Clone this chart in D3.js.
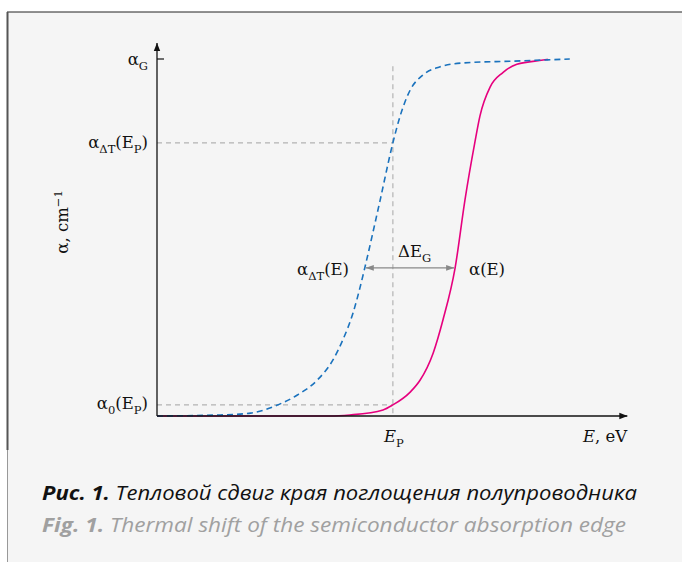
<!DOCTYPE html>
<html>
<head>
<meta charset="utf-8">
<script src="https://cdnjs.cloudflare.com/ajax/libs/d3/7.8.5/d3.min.js"></script>
<style>
  html, body { margin: 0; padding: 0; background: #fff; }
  svg { display: block; }
</style>
</head>
<body>
<svg id="chart" width="682" height="562"></svg>
<script>
// heated sample, alpha_dT(E) - dashed blue
var shiftedE     = [0, 1.35, 2.00, 2.56, 2.99, 3.42, 3.76, 3.97, 4.19, 4.34, 4.44, 4.76, 5.04, 5.19, 5.41, 5.68, 6.05, 6.54, 7.61, 8.82];
var shiftedAlpha = [0, 0.003, 0.008, 0.030, 0.058, 0.10, 0.157, 0.213, 0.289, 0.361, 0.415, 0.60, 0.765, 0.838, 0.913, 0.955, 0.978, 0.989, 0.994, 1.0];
// cold sample, alpha(E) - solid magenta
var baseE     = [0, 3.70, 4.12, 4.83, 5.04, 5.41, 5.62, 5.90, 6.11, 6.37, 6.58, 6.79, 6.90, 7.12, 7.39, 7.69, 8.25, 8.35];
var baseAlpha = [0, 0, 0.003, 0.017, 0.031, 0.067, 0.10, 0.176, 0.269, 0.415, 0.605, 0.765, 0.84, 0.922, 0.962, 0.985, 0.997, 0.999];

var ePoint = 5.04;          // E_P
var alphaShiftAtP = 0.765;  // alpha_dT(E_P)
var alphaBaseAtP = 0.031;   // alpha_0(E_P)
var alphaG = 1.0;
var gapAlpha = 0.415, gapFrom = 4.44, gapTo = 6.37;   // delta E_G arrow

var svg = d3.select('#chart');
var serif = '"DejaVu Serif", serif';
var padding = {l: 157, r: 625, t: 59, b: 416};

var xScale = d3.scaleLinear().domain([0, 10]).range([padding.l, padding.r]);
var yScale = d3.scaleLinear().domain([0, 1]).range([padding.b, padding.t]);

// frame / background
svg.append('rect').attr('x', 7).attr('y', 12).attr('width', 675).attr('height', 550).attr('fill', '#f5f5f5');
svg.append('line').attr('x1', 7).attr('x2', 682).attr('y1', 12).attr('y2', 12).attr('stroke', '#222').attr('stroke-width', 1);
svg.append('line').attr('x1', 7.5).attr('x2', 7.5).attr('y1', 12).attr('y2', 450).attr('stroke', '#555').attr('stroke-width', 2);
svg.append('line').attr('x1', 7.5).attr('x2', 7.5).attr('y1', 450).attr('y2', 562).attr('stroke', '#999').attr('stroke-width', 1);

var defs = svg.append('defs');
defs.append('marker').attr('id', 'axArrow').attr('viewBox', '0 0 10 10').attr('refX', 10).attr('refY', 5)
    .attr('markerWidth', 8).attr('markerHeight', 8).attr('markerUnits', 'userSpaceOnUse').attr('orient', 'auto')
    .append('path').attr('d', 'M0,1 L10,5 L0,9 Z').attr('fill', '#111');
defs.append('marker').attr('id', 'grayArrow').attr('viewBox', '0 0 10 10').attr('refX', 10).attr('refY', 5)
    .attr('markerWidth', 8).attr('markerHeight', 8).attr('markerUnits', 'userSpaceOnUse').attr('orient', 'auto-start-reverse')
    .append('path').attr('d', 'M0,1.5 L10,5 L0,8.5 Z').attr('fill', '#888');

var chartG = svg.append('g');

// guide lines
var guide = function(x1, y1, x2, y2) {
    chartG.append('line').attr('x1', x1).attr('y1', y1).attr('x2', x2).attr('y2', y2)
        .attr('stroke', '#b3b3b3').attr('stroke-width', 1.2).attr('stroke-dasharray', '5,4');
};
guide(xScale(0), yScale(alphaShiftAtP), xScale(ePoint), yScale(alphaShiftAtP));
guide(xScale(0), yScale(alphaBaseAtP), xScale(ePoint), yScale(alphaBaseAtP));
guide(xScale(ePoint), yScale(0.98), xScale(ePoint), yScale(0));

// curves
var line = d3.line().curve(d3.curveMonotoneX)
    .x(function(d) { return xScale(d[0]); })
    .y(function(d) { return yScale(d[1]); });

chartG.append('path')
    .datum(baseE.map(function(e, i) { return [e, baseAlpha[i]]; }))
    .attr('d', line).attr('fill', 'none').attr('stroke', '#e6007e').attr('stroke-width', 1.6);
chartG.append('path')
    .datum(shiftedE.map(function(e, i) { return [e, shiftedAlpha[i]]; }))
    .attr('d', line).attr('fill', 'none').attr('stroke', '#1a72bd').attr('stroke-width', 1.6)
    .attr('stroke-dasharray', '6,4');

// axes
chartG.append('line').attr('x1', xScale(0)).attr('y1', yScale(0)).attr('x2', xScale(10.05)).attr('y2', yScale(0))
    .attr('stroke', '#111').attr('stroke-width', 1.3).attr('marker-end', 'url(#axArrow)');
chartG.append('line').attr('x1', xScale(0)).attr('y1', yScale(0)).attr('x2', xScale(0)).attr('y2', yScale(1.045))
    .attr('stroke', '#111').attr('stroke-width', 1.3).attr('marker-end', 'url(#axArrow)');
chartG.append('line').attr('x1', xScale(0)).attr('x2', xScale(0) + 7).attr('y1', yScale(alphaG)).attr('y2', yScale(alphaG))
    .attr('stroke', '#111').attr('stroke-width', 1.2);

// delta E_G arrow
chartG.append('line').attr('x1', xScale(gapFrom) + 1).attr('x2', xScale(gapTo) - 1)
    .attr('y1', yScale(gapAlpha)).attr('y2', yScale(gapAlpha))
    .attr('stroke', '#888').attr('stroke-width', 1.2)
    .attr('marker-start', 'url(#grayArrow)').attr('marker-end', 'url(#grayArrow)');

// text with subscripts: parts = [[text, 'sub'|'sup'|'', italic]]
function label(x, y, parts, anchor) {
    var t = chartG.append('text').attr('x', x).attr('y', y)
        .attr('font-family', serif).attr('font-size', 16.5).attr('fill', '#111')
        .attr('text-anchor', anchor || 'start');
    var shift = 0;
    parts.forEach(function(p) {
        var target = p[1] === 'sub' ? 4.5 : (p[1] === 'sup' ? -6 : 0);
        var s = t.append('tspan').text(p[0]).attr('dy', target - shift);
        if (p[1]) s.attr('font-size', 11.5);
        if (p[2]) s.attr('font-style', 'italic');
        shift = target;
    });
    return t;
}

label(148, 65, [['α', ''], ['G', 'sub']], 'end');
label(148, 148, [['α', ''], ['ΔT', 'sub'], ['(E', ''], ['P', 'sub'], [')', '']], 'end');
label(148, 409, [['α', ''], ['0', 'sub'], ['(E', ''], ['P', 'sub'], [')', '']], 'end');
label(297, 275, [['α', ''], ['ΔT', 'sub'], ['(E)', '']], 'start');
label(469, 275, [['α(E)', '']], 'start');
label(398, 257, [['ΔE', ''], ['G', 'sub']], 'start');
label(384, 442, [['E', '', true], ['P', 'sub']], 'start');
label(583, 442, [['E', '', true], [', eV', '']], 'start');

var yLab = label(0, 0, [['α, cm', ''], ['−1', 'sup']], 'middle');
yLab.attr('transform', 'translate(68,222) rotate(-90)');

// caption
var sans = '"Open Sans", "Noto Sans", sans-serif';
var cap1 = svg.append('text').attr('x', 42).attr('y', 500).attr('font-family', sans).attr('font-size', 20)
    .attr('font-style', 'italic').attr('fill', '#111')
    .attr('textLength', 595).attr('lengthAdjust', 'spacingAndGlyphs');
cap1.append('tspan').attr('font-weight', 'bold').text('Рис. 1.');
cap1.append('tspan').text(' Тепловой сдвиг края поглощения полупроводника');

var cap2 = svg.append('text').attr('x', 42).attr('y', 532).attr('font-family', sans).attr('font-size', 20)
    .attr('font-style', 'italic').attr('fill', '#a0a0a0')
    .attr('textLength', 584).attr('lengthAdjust', 'spacingAndGlyphs');
cap2.append('tspan').attr('font-weight', 'bold').text('Fig. 1.');
cap2.append('tspan').text(' Thermal shift of the semiconductor absorption edge');
</script>
</body>
</html>
